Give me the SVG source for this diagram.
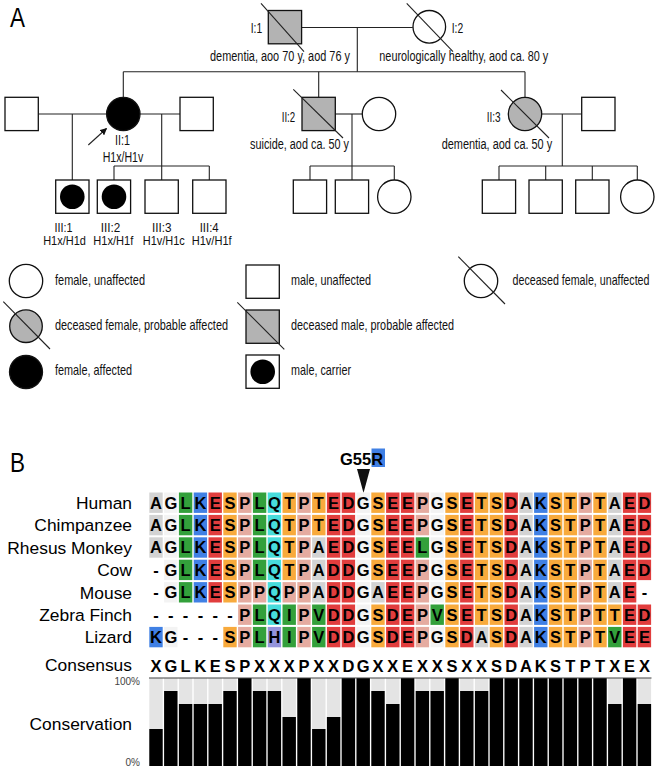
<svg xmlns="http://www.w3.org/2000/svg" xmlns:xlink="http://www.w3.org/1999/xlink" width="658" height="772" viewBox="0 0 658 772">
<style>
text{font-family:"Liberation Sans",Arial,sans-serif;fill:#000}
.ped{font-size:14px;fill:#111}
.ped3{font-size:12px;fill:#111;text-anchor:middle}
.leg{font-size:15px;fill:#111}
.panel{font-size:28px}
.lab{font-size:17.4px;text-anchor:end}
.seq{font-size:16.5px;font-weight:bold;text-anchor:middle}
.pct{font-size:10px;fill:#444;text-anchor:end}
.ln{stroke:#222;stroke-width:1.1;fill:none}
.sh{stroke:#111;stroke-width:1.3}
.wh{fill:#fff}
.gy{fill:#b3b3b3}
.bk{fill:#000}
.bar{fill:#000}
</style>
<defs>
<marker id="ah" viewBox="0 0 10 10" refX="9" refY="5" markerWidth="7" markerHeight="7" markerUnits="userSpaceOnUse" orient="auto"><path d="M0,0 L10,5 L0,10 z" fill="#111"/></marker>
<rect id="cA" width="13.4" height="20.4" fill="#d3d3d3"/>
<rect id="cG" width="13.4" height="20.4" fill="#f3f3f3"/>
<rect id="cL" width="13.4" height="20.4" fill="#33a03b"/>
<rect id="cK" width="13.4" height="20.4" fill="#4080e4"/>
<rect id="cE" width="13.4" height="20.4" fill="#e13d3d"/>
<rect id="cS" width="13.4" height="20.4" fill="#f8aa3c"/>
<rect id="cP" width="13.4" height="20.4" fill="#e5aba0"/>
<rect id="cQ" width="13.4" height="20.4" fill="#47dcdc"/>
<rect id="cH" width="13.4" height="20.4" fill="#9494db"/>
<rect id="bg" width="13.4" height="88" fill="#e4e4e4"/>
</defs>
<rect width="658" height="772" fill="#fff"/>

<!-- Panel A -->
<text class="panel" x="10" y="27" textLength="15" lengthAdjust="spacingAndGlyphs">A</text>

<g id="connectors">
<line class="ln" x1="301.6" y1="27.5" x2="412.8" y2="27.5"/>
<line class="ln" x1="357.3" y1="27.5" x2="357.3" y2="71.7"/>
<line class="ln" x1="123.3" y1="71.7" x2="525" y2="71.7"/>
<line class="ln" x1="123.3" y1="71.7" x2="123.3" y2="97.3"/>
<line class="ln" x1="318.7" y1="71.7" x2="318.7" y2="97.3"/>
<line class="ln" x1="525" y1="71.7" x2="525" y2="97.3"/>
<line class="ln" x1="38.3" y1="114" x2="106.6" y2="114"/>
<line class="ln" x1="140" y1="114" x2="180" y2="114"/>
<line class="ln" x1="335.3" y1="114" x2="362.3" y2="114"/>
<line class="ln" x1="541.7" y1="114" x2="581.7" y2="114"/>
<line class="ln" x1="72.3" y1="114" x2="72.3" y2="180"/>
<line class="ln" x1="161.7" y1="114" x2="161.7" y2="180"/>
<line class="ln" x1="352" y1="114" x2="352" y2="180"/>
<line class="ln" x1="562.3" y1="114" x2="562.3" y2="166"/>
<line class="ln" x1="114" y1="166" x2="209.3" y2="166"/>
<line class="ln" x1="114" y1="166" x2="114" y2="180"/>
<line class="ln" x1="209.3" y1="166" x2="209.3" y2="180"/>
<line class="ln" x1="310" y1="166" x2="394.3" y2="166"/>
<line class="ln" x1="310" y1="166" x2="310" y2="180"/>
<line class="ln" x1="394.3" y1="166" x2="394.3" y2="180"/>
<line class="ln" x1="499" y1="166" x2="637.3" y2="166"/>
<line class="ln" x1="499" y1="166" x2="499" y2="180"/>
<line class="ln" x1="545.7" y1="166" x2="545.7" y2="180"/>
<line class="ln" x1="592.3" y1="166" x2="592.3" y2="180"/>
<line class="ln" x1="637.3" y1="166" x2="637.3" y2="180"/>
<line class="ln" x1="88.3" y1="145" x2="106.5" y2="128.5" marker-end="url(#ah)"/>
</g>

<g id="I1">
<rect class="sh gy" x="268.3" y="10.5" width="33.3" height="33.3"/>
<line class="ln" x1="261" y1="3.3" x2="304" y2="51.7"/>
<text class="ped" x="250.7" y="33" textLength="11.5" lengthAdjust="spacingAndGlyphs">I:1</text>
<text class="ped" x="210" y="60.5" textLength="140" lengthAdjust="spacingAndGlyphs">dementia, aoo 70 y, aod 76 y</text>
</g>
<g id="I2">
<circle class="sh wh" cx="429.3" cy="26.8" r="16.3"/>
<line class="ln" x1="406.7" y1="3.3" x2="453" y2="51.7"/>
<text class="ped" x="451.7" y="33" textLength="11.5" lengthAdjust="spacingAndGlyphs">I:2</text>
<text class="ped" x="379.3" y="60.5" textLength="169" lengthAdjust="spacingAndGlyphs">neurologically healthy, aod ca. 80 y</text>
</g>

<g id="II1_spouseL"><rect class="sh wh" x="5" y="97.3" width="33.3" height="33.3"/></g>
<g id="II1">
<circle class="sh bk" cx="123.3" cy="114" r="16.7"/>
<text class="ped" x="122.5" y="145" text-anchor="middle" textLength="15" lengthAdjust="spacingAndGlyphs">II:1</text>
<text class="ped" x="123" y="161.5" text-anchor="middle" textLength="40.6" lengthAdjust="spacingAndGlyphs">H1x/H1v</text>
</g>
<g id="II1_spouseR"><rect class="sh wh" x="180" y="97.3" width="33.3" height="33.3"/></g>
<g id="II2">
<rect class="sh gy" x="302" y="97.3" width="33.3" height="33.3"/>
<line class="ln" x1="293.3" y1="89.3" x2="343" y2="138"/>
<text class="ped" x="281.7" y="121.7" textLength="13.5" lengthAdjust="spacingAndGlyphs">II:2</text>
<text class="ped" x="250" y="148.7" textLength="99" lengthAdjust="spacingAndGlyphs">suicide, aod ca. 50 y</text>
</g>
<g id="II2_spouse"><circle class="sh wh" cx="379" cy="114" r="16.7"/></g>
<g id="II3">
<circle class="sh gy" cx="525" cy="114" r="16.7"/>
<line class="ln" x1="501" y1="90" x2="549" y2="138"/>
<text class="ped" x="486.7" y="121.7" textLength="14" lengthAdjust="spacingAndGlyphs">II:3</text>
<text class="ped" x="441.7" y="148.7" textLength="110.5" lengthAdjust="spacingAndGlyphs">dementia, aod ca. 50 y</text>
</g>
<g id="II3_spouse"><rect class="sh wh" x="581.7" y="97.3" width="33.3" height="33.3"/></g>

<g id="III1">
<rect class="sh wh" x="55.7" y="180" width="33.3" height="33.3"/>
<circle class="bk" cx="72.3" cy="196.7" r="12.3"/>
<text class="ped3" x="63.5" y="231.5" textLength="18" lengthAdjust="spacingAndGlyphs">III:1</text>
<text class="ped3" x="64.5" y="245" textLength="42.7" lengthAdjust="spacingAndGlyphs">H1x/H1d</text>
</g>
<g id="III2">
<rect class="sh wh" x="97.3" y="180" width="33.3" height="33.3"/>
<circle class="bk" cx="114" cy="196.7" r="12.3"/>
<text class="ped3" x="110.5" y="231.5" textLength="19.5" lengthAdjust="spacingAndGlyphs">III:2</text>
<text class="ped3" x="113.3" y="245" textLength="40" lengthAdjust="spacingAndGlyphs">H1x/H1f</text>
</g>
<g id="III3">
<rect class="sh wh" x="145" y="180" width="33.3" height="33.3"/>
<text class="ped3" x="161.7" y="231.5" textLength="19.5" lengthAdjust="spacingAndGlyphs">III:3</text>
<text class="ped3" x="163.8" y="245" textLength="42" lengthAdjust="spacingAndGlyphs">H1v/H1c</text>
</g>
<g id="III4">
<rect class="sh wh" x="192.7" y="180" width="33.3" height="33.3"/>
<text class="ped3" x="209.2" y="231.5" textLength="19" lengthAdjust="spacingAndGlyphs">III:4</text>
<text class="ped3" x="211.7" y="245" textLength="40" lengthAdjust="spacingAndGlyphs">H1v/H1f</text>
</g>
<g id="III5"><rect class="sh wh" x="293.3" y="180" width="33.3" height="33.3"/></g>
<g id="III6"><rect class="sh wh" x="335.3" y="180" width="33.3" height="33.3"/></g>
<g id="III7"><circle class="sh wh" cx="394.3" cy="196.7" r="16.7"/></g>
<g id="III8"><rect class="sh wh" x="482.3" y="180" width="33.3" height="33.3"/></g>
<g id="III9"><rect class="sh wh" x="529" y="180" width="33.3" height="33.3"/></g>
<g id="III10"><rect class="sh wh" x="575.7" y="180" width="33.3" height="33.3"/></g>
<g id="III11"><circle class="sh wh" cx="637.3" cy="196.7" r="16.7"/></g>

<!-- Legend -->
<g id="legend">
<circle class="sh wh" cx="26" cy="281" r="16.7"/>
<text class="leg" x="55" y="285" textLength="90" lengthAdjust="spacingAndGlyphs">female, unaffected</text>
<circle class="sh gy" cx="26" cy="326.2" r="16.3"/>
<line class="ln" x1="3.3" y1="301.7" x2="50" y2="349"/>
<text class="leg" x="55" y="329.5" textLength="173" lengthAdjust="spacingAndGlyphs">deceased female, probable affected</text>
<circle class="sh bk" cx="26" cy="372" r="16.5"/>
<text class="leg" x="55" y="375" textLength="77" lengthAdjust="spacingAndGlyphs">female, affected</text>
<rect class="sh wh" x="246" y="265" width="33.3" height="33.3"/>
<text class="leg" x="291" y="285" textLength="80" lengthAdjust="spacingAndGlyphs">male, unaffected</text>
<rect class="sh gy" x="246" y="310" width="33.3" height="33.3"/>
<line class="ln" x1="237.3" y1="302.3" x2="284.3" y2="349.3"/>
<text class="leg" x="291" y="329.5" textLength="163" lengthAdjust="spacingAndGlyphs">deceased male, probable affected</text>
<rect class="sh wh" x="246" y="355" width="33.3" height="33.3"/>
<circle class="bk" cx="262.7" cy="371.7" r="12.3"/>
<text class="leg" x="291" y="375" textLength="60" lengthAdjust="spacingAndGlyphs">male, carrier</text>
<circle class="sh wh" cx="481" cy="281" r="16.7"/>
<line class="ln" x1="458.3" y1="256.7" x2="505" y2="304"/>
<text class="leg" x="512.5" y="285" textLength="137" lengthAdjust="spacingAndGlyphs">deceased female, unaffected</text>
</g>

<!-- Panel B -->
<text class="panel" x="10" y="471.5" textLength="15" lengthAdjust="spacingAndGlyphs">B</text>

<g id="mutation">
<rect x="371.5" y="448.5" width="13.5" height="18.5" fill="#4080e4"/>
<text class="seq" x="340" y="465" style="text-anchor:start">G55R</text>
<polygon points="357,469 370,469 363.5,493" fill="#111"/>
</g>

<g id="labels">
<text class="lab" x="132" y="508.9">Human</text>
<text class="lab" x="132" y="531.3">Chimpanzee</text>
<text class="lab" x="132" y="553.7">Rhesus Monkey</text>
<text class="lab" x="132" y="576.1">Cow</text>
<text class="lab" x="132" y="598.5">Mouse</text>
<text class="lab" x="132" y="620.9">Zebra Finch</text>
<text class="lab" x="132" y="643.3">Lizard</text>
<text class="lab" x="132" y="671.3">Consensus</text>
<text class="lab" x="132" y="730">Conservation</text>
<text class="pct" x="140" y="685">100%</text>
<text class="pct" x="140" y="766">0%</text>
</g>

<g id="cells">
<g transform="translate(0,492.5)">
<use href="#cA" x="149.3"/><use href="#cG" x="164.1"/><use href="#cL" x="178.9"/><use href="#cK" x="193.7"/><use href="#cE" x="208.5"/><use href="#cS" x="223.3"/><use href="#cP" x="238.1"/><use href="#cL" x="252.9"/><use href="#cQ" x="267.7"/><use href="#cS" x="282.5"/><use href="#cP" x="297.3"/><use href="#cS" x="312.1"/><use href="#cE" x="326.9"/><use href="#cE" x="341.7"/><use href="#cG" x="356.5"/><use href="#cS" x="371.3"/><use href="#cE" x="386.1"/><use href="#cE" x="400.9"/><use href="#cP" x="415.7"/><use href="#cG" x="430.5"/><use href="#cS" x="445.3"/><use href="#cE" x="460.1"/><use href="#cS" x="474.9"/><use href="#cS" x="489.7"/><use href="#cE" x="504.5"/><use href="#cA" x="519.3"/><use href="#cK" x="534.1"/><use href="#cS" x="548.9"/><use href="#cS" x="563.7"/><use href="#cP" x="578.5"/><use href="#cS" x="593.3"/><use href="#cA" x="608.1"/><use href="#cE" x="622.9"/><use href="#cE" x="637.7"/>
</g>
<g transform="translate(0,514.9)">
<use href="#cA" x="149.3"/><use href="#cG" x="164.1"/><use href="#cL" x="178.9"/><use href="#cK" x="193.7"/><use href="#cE" x="208.5"/><use href="#cS" x="223.3"/><use href="#cP" x="238.1"/><use href="#cL" x="252.9"/><use href="#cQ" x="267.7"/><use href="#cS" x="282.5"/><use href="#cP" x="297.3"/><use href="#cS" x="312.1"/><use href="#cE" x="326.9"/><use href="#cE" x="341.7"/><use href="#cG" x="356.5"/><use href="#cS" x="371.3"/><use href="#cE" x="386.1"/><use href="#cE" x="400.9"/><use href="#cP" x="415.7"/><use href="#cG" x="430.5"/><use href="#cS" x="445.3"/><use href="#cE" x="460.1"/><use href="#cS" x="474.9"/><use href="#cS" x="489.7"/><use href="#cE" x="504.5"/><use href="#cA" x="519.3"/><use href="#cK" x="534.1"/><use href="#cS" x="548.9"/><use href="#cS" x="563.7"/><use href="#cP" x="578.5"/><use href="#cS" x="593.3"/><use href="#cA" x="608.1"/><use href="#cE" x="622.9"/><use href="#cE" x="637.7"/>
</g>
<g transform="translate(0,537.3)">
<use href="#cA" x="149.3"/><use href="#cG" x="164.1"/><use href="#cL" x="178.9"/><use href="#cK" x="193.7"/><use href="#cE" x="208.5"/><use href="#cS" x="223.3"/><use href="#cP" x="238.1"/><use href="#cL" x="252.9"/><use href="#cQ" x="267.7"/><use href="#cS" x="282.5"/><use href="#cP" x="297.3"/><use href="#cA" x="312.1"/><use href="#cE" x="326.9"/><use href="#cE" x="341.7"/><use href="#cG" x="356.5"/><use href="#cS" x="371.3"/><use href="#cE" x="386.1"/><use href="#cE" x="400.9"/><use href="#cL" x="415.7"/><use href="#cG" x="430.5"/><use href="#cS" x="445.3"/><use href="#cE" x="460.1"/><use href="#cS" x="474.9"/><use href="#cS" x="489.7"/><use href="#cE" x="504.5"/><use href="#cA" x="519.3"/><use href="#cK" x="534.1"/><use href="#cS" x="548.9"/><use href="#cS" x="563.7"/><use href="#cP" x="578.5"/><use href="#cS" x="593.3"/><use href="#cA" x="608.1"/><use href="#cE" x="622.9"/><use href="#cE" x="637.7"/>
</g>
<g transform="translate(0,559.7)">
<use href="#cG" x="164.1"/><use href="#cL" x="178.9"/><use href="#cK" x="193.7"/><use href="#cE" x="208.5"/><use href="#cS" x="223.3"/><use href="#cP" x="238.1"/><use href="#cL" x="252.9"/><use href="#cQ" x="267.7"/><use href="#cS" x="282.5"/><use href="#cP" x="297.3"/><use href="#cA" x="312.1"/><use href="#cE" x="326.9"/><use href="#cE" x="341.7"/><use href="#cG" x="356.5"/><use href="#cS" x="371.3"/><use href="#cE" x="386.1"/><use href="#cE" x="400.9"/><use href="#cP" x="415.7"/><use href="#cG" x="430.5"/><use href="#cS" x="445.3"/><use href="#cE" x="460.1"/><use href="#cS" x="474.9"/><use href="#cS" x="489.7"/><use href="#cE" x="504.5"/><use href="#cA" x="519.3"/><use href="#cK" x="534.1"/><use href="#cS" x="548.9"/><use href="#cS" x="563.7"/><use href="#cP" x="578.5"/><use href="#cS" x="593.3"/><use href="#cA" x="608.1"/><use href="#cE" x="622.9"/><use href="#cE" x="637.7"/>
</g>
<g transform="translate(0,582.1)">
<use href="#cG" x="164.1"/><use href="#cL" x="178.9"/><use href="#cK" x="193.7"/><use href="#cE" x="208.5"/><use href="#cS" x="223.3"/><use href="#cP" x="238.1"/><use href="#cP" x="252.9"/><use href="#cQ" x="267.7"/><use href="#cP" x="282.5"/><use href="#cP" x="297.3"/><use href="#cA" x="312.1"/><use href="#cE" x="326.9"/><use href="#cE" x="341.7"/><use href="#cG" x="356.5"/><use href="#cA" x="371.3"/><use href="#cE" x="386.1"/><use href="#cE" x="400.9"/><use href="#cP" x="415.7"/><use href="#cG" x="430.5"/><use href="#cS" x="445.3"/><use href="#cE" x="460.1"/><use href="#cS" x="474.9"/><use href="#cS" x="489.7"/><use href="#cE" x="504.5"/><use href="#cA" x="519.3"/><use href="#cK" x="534.1"/><use href="#cS" x="548.9"/><use href="#cS" x="563.7"/><use href="#cP" x="578.5"/><use href="#cS" x="593.3"/><use href="#cA" x="608.1"/><use href="#cE" x="622.9"/>
</g>
<g transform="translate(0,604.5)">
<use href="#cP" x="238.1"/><use href="#cL" x="252.9"/><use href="#cQ" x="267.7"/><use href="#cL" x="282.5"/><use href="#cP" x="297.3"/><use href="#cL" x="312.1"/><use href="#cE" x="326.9"/><use href="#cE" x="341.7"/><use href="#cG" x="356.5"/><use href="#cS" x="371.3"/><use href="#cE" x="386.1"/><use href="#cE" x="400.9"/><use href="#cP" x="415.7"/><use href="#cL" x="430.5"/><use href="#cS" x="445.3"/><use href="#cE" x="460.1"/><use href="#cS" x="474.9"/><use href="#cS" x="489.7"/><use href="#cE" x="504.5"/><use href="#cA" x="519.3"/><use href="#cK" x="534.1"/><use href="#cS" x="548.9"/><use href="#cS" x="563.7"/><use href="#cP" x="578.5"/><use href="#cS" x="593.3"/><use href="#cS" x="608.1"/><use href="#cE" x="622.9"/><use href="#cE" x="637.7"/>
</g>
<g transform="translate(0,626.9)">
<use href="#cK" x="149.3"/><use href="#cG" x="164.1"/><use href="#cS" x="223.3"/><use href="#cP" x="238.1"/><use href="#cL" x="252.9"/><use href="#cH" x="267.7"/><use href="#cL" x="282.5"/><use href="#cP" x="297.3"/><use href="#cL" x="312.1"/><use href="#cE" x="326.9"/><use href="#cE" x="341.7"/><use href="#cG" x="356.5"/><use href="#cS" x="371.3"/><use href="#cE" x="386.1"/><use href="#cE" x="400.9"/><use href="#cP" x="415.7"/><use href="#cG" x="430.5"/><use href="#cS" x="445.3"/><use href="#cE" x="460.1"/><use href="#cA" x="474.9"/><use href="#cS" x="489.7"/><use href="#cE" x="504.5"/><use href="#cA" x="519.3"/><use href="#cK" x="534.1"/><use href="#cS" x="548.9"/><use href="#cS" x="563.7"/><use href="#cP" x="578.5"/><use href="#cS" x="593.3"/><use href="#cL" x="608.1"/><use href="#cE" x="622.9"/><use href="#cE" x="637.7"/>
</g>
</g>

<g id="sequences">
<text class="seq" y="508.6" x="156 170.8 185.6 200.4 215.2 230 244.8 259.6 274.4 289.2 304 318.8 333.6 348.4 363.2 378 392.8 407.6 422.4 437.2 452 466.8 481.6 496.4 511.2 526 540.8 555.6 570.4 585.2 600 614.8 629.6 644.4">AGLKESPLQTPTEDGSEEPGSETSDAKSTPTAED</text>
<text class="seq" y="531" x="156 170.8 185.6 200.4 215.2 230 244.8 259.6 274.4 289.2 304 318.8 333.6 348.4 363.2 378 392.8 407.6 422.4 437.2 452 466.8 481.6 496.4 511.2 526 540.8 555.6 570.4 585.2 600 614.8 629.6 644.4">AGLKESPLQTPTEDGSEEPGSETSDAKSTPTAED</text>
<text class="seq" y="553.4" x="156 170.8 185.6 200.4 215.2 230 244.8 259.6 274.4 289.2 304 318.8 333.6 348.4 363.2 378 392.8 407.6 422.4 437.2 452 466.8 481.6 496.4 511.2 526 540.8 555.6 570.4 585.2 600 614.8 629.6 644.4">AGLKESPLQTPAEDGSEELGSETSDAKSTPTAED</text>
<text class="seq" y="575.8" x="156 170.8 185.6 200.4 215.2 230 244.8 259.6 274.4 289.2 304 318.8 333.6 348.4 363.2 378 392.8 407.6 422.4 437.2 452 466.8 481.6 496.4 511.2 526 540.8 555.6 570.4 585.2 600 614.8 629.6 644.4">-GLKESPLQTPADDGSEEPGSETSDAKSTPTAED</text>
<text class="seq" y="598.2" x="156 170.8 185.6 200.4 215.2 230 244.8 259.6 274.4 289.2 304 318.8 333.6 348.4 363.2 378 392.8 407.6 422.4 437.2 452 466.8 481.6 496.4 511.2 526 540.8 555.6 570.4 585.2 600 614.8 629.6 644.4">-GLKESPPQPPADDGAEEPGSETSDAKSTPTAE-</text>
<text class="seq" y="620.6" x="156 170.8 185.6 200.4 215.2 230 244.8 259.6 274.4 289.2 304 318.8 333.6 348.4 363.2 378 392.8 407.6 422.4 437.2 452 466.8 481.6 496.4 511.2 526 540.8 555.6 570.4 585.2 600 614.8 629.6 644.4">------PLQIPVDDGSDEPVSETSDAKSTPTTED</text>
<text class="seq" y="643" x="156 170.8 185.6 200.4 215.2 230 244.8 259.6 274.4 289.2 304 318.8 333.6 348.4 363.2 378 392.8 407.6 422.4 437.2 452 466.8 481.6 496.4 511.2 526 540.8 555.6 570.4 585.2 600 614.8 629.6 644.4">KG---SPLHIPVDDGSDEPGSDASDAKSTPTVEE</text>
<text class="seq" y="671.5" x="156 170.8 185.6 200.4 215.2 230 244.8 259.6 274.4 289.2 304 318.8 333.6 348.4 363.2 378 392.8 407.6 422.4 437.2 452 466.8 481.6 496.4 511.2 526 540.8 555.6 570.4 585.2 600 614.8 629.6 644.4">XGLKESPXXXPXXDGXXEXXSXXSDAKSTPTXEX</text>
</g>

<g id="conservation">
<use href="#bg" x="149.3" y="678"/><use href="#bg" x="164.1" y="678"/><use href="#bg" x="178.9" y="678"/><use href="#bg" x="193.7" y="678"/><use href="#bg" x="208.5" y="678"/><use href="#bg" x="223.3" y="678"/><use href="#bg" x="238.1" y="678"/><use href="#bg" x="252.9" y="678"/><use href="#bg" x="267.7" y="678"/><use href="#bg" x="282.5" y="678"/><use href="#bg" x="297.3" y="678"/><use href="#bg" x="312.1" y="678"/><use href="#bg" x="326.9" y="678"/><use href="#bg" x="341.7" y="678"/><use href="#bg" x="356.5" y="678"/><use href="#bg" x="371.3" y="678"/><use href="#bg" x="386.1" y="678"/><use href="#bg" x="400.9" y="678"/><use href="#bg" x="415.7" y="678"/><use href="#bg" x="430.5" y="678"/><use href="#bg" x="445.3" y="678"/><use href="#bg" x="460.1" y="678"/><use href="#bg" x="474.9" y="678"/><use href="#bg" x="489.7" y="678"/><use href="#bg" x="504.5" y="678"/><use href="#bg" x="519.3" y="678"/><use href="#bg" x="534.1" y="678"/><use href="#bg" x="548.9" y="678"/><use href="#bg" x="563.7" y="678"/><use href="#bg" x="578.5" y="678"/><use href="#bg" x="593.3" y="678"/><use href="#bg" x="608.1" y="678"/><use href="#bg" x="622.9" y="678"/><use href="#bg" x="637.7" y="678"/>
<rect class="bar" x="149.3" y="729" width="13.4" height="37"/>
<rect class="bar" x="164.1" y="691" width="13.4" height="75"/>
<rect class="bar" x="178.9" y="704" width="13.4" height="62"/>
<rect class="bar" x="193.7" y="704" width="13.4" height="62"/>
<rect class="bar" x="208.5" y="704" width="13.4" height="62"/>
<rect class="bar" x="223.3" y="691" width="13.4" height="75"/>
<rect class="bar" x="238.1" y="678" width="13.4" height="88"/>
<rect class="bar" x="252.9" y="691" width="13.4" height="75"/>
<rect class="bar" x="267.7" y="691" width="13.4" height="75"/>
<rect class="bar" x="282.5" y="717" width="13.4" height="49"/>
<rect class="bar" x="297.3" y="678" width="13.4" height="88"/>
<rect class="bar" x="312.1" y="729" width="13.4" height="37"/>
<rect class="bar" x="326.9" y="717" width="13.4" height="49"/>
<rect class="bar" x="341.7" y="678" width="13.4" height="88"/>
<rect class="bar" x="356.5" y="678" width="13.4" height="88"/>
<rect class="bar" x="371.3" y="691" width="13.4" height="75"/>
<rect class="bar" x="386.1" y="704" width="13.4" height="62"/>
<rect class="bar" x="400.9" y="678" width="13.4" height="88"/>
<rect class="bar" x="415.7" y="691" width="13.4" height="75"/>
<rect class="bar" x="430.5" y="691" width="13.4" height="75"/>
<rect class="bar" x="445.3" y="678" width="13.4" height="88"/>
<rect class="bar" x="460.1" y="691" width="13.4" height="75"/>
<rect class="bar" x="474.9" y="691" width="13.4" height="75"/>
<rect class="bar" x="489.7" y="678" width="13.4" height="88"/>
<rect class="bar" x="504.5" y="678" width="13.4" height="88"/>
<rect class="bar" x="519.3" y="678" width="13.4" height="88"/>
<rect class="bar" x="534.1" y="678" width="13.4" height="88"/>
<rect class="bar" x="548.9" y="678" width="13.4" height="88"/>
<rect class="bar" x="563.7" y="678" width="13.4" height="88"/>
<rect class="bar" x="578.5" y="678" width="13.4" height="88"/>
<rect class="bar" x="593.3" y="678" width="13.4" height="88"/>
<rect class="bar" x="608.1" y="704" width="13.4" height="62"/>
<rect class="bar" x="622.9" y="678" width="13.4" height="88"/>
<rect class="bar" x="637.7" y="704" width="13.4" height="62"/>
<line x1="149" y1="678" x2="651.5" y2="678" stroke="#444" stroke-width="1.2"/>
</g>
</svg>
